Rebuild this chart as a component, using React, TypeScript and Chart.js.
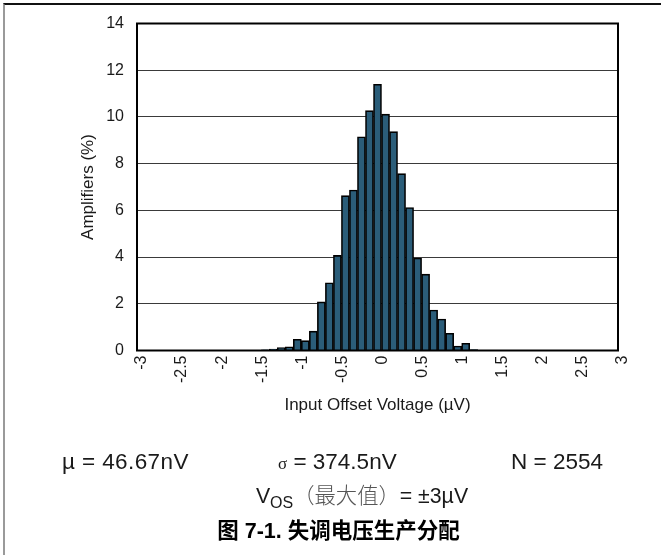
import React, { useEffect, useRef } from "react";
import { Chart, registerables } from "chart.js";

Chart.register(...registerables);

// Histogram bins (µV, bin centres) and share of amplifiers in each bin (%)
const binCenters = [
  -1.4, -1.3, -1.2, -1.1, -1.0, -0.9, -0.8, -0.7, -0.6, -0.5, -0.4, -0.3, -0.2, -0.1,
  0.0, 0.1, 0.2, 0.3, 0.4, 0.5, 0.6, 0.7, 0.8, 0.9, 1.0, 1.1, 1.2,
];
const amplifiersPct = [
  0.03, 0.06, 0.12, 0.16, 0.48, 0.42, 0.83, 2.08, 2.9, 4.07, 6.63, 6.87, 9.15, 10.27,
  11.4, 10.12, 9.37, 7.57, 6.12, 3.96, 3.27, 1.73, 1.35, 0.74, 0.19, 0.31, 0.04,
];

const xRange = [-3, 3];
const xStep = 0.5;
const yRange = [0, 14];
const yStep = 2;

const xTitle = "Input Offset Voltage (µV)";
const yTitle = "Amplifiers (%)";

const FONT = "'Liberation Sans', Arial, Helvetica, sans-serif";
const CJK = "'Liberation Sans', 'Noto Sans CJK SC', sans-serif";
const INK = "#1a1a1a";

// Black frame around the plotting area, drawn over the bars
const plotFrame = {
  id: "plotFrame",
  afterDatasetsDraw(chart: any) {
    const { ctx, chartArea } = chart;
    const { left, top, right, bottom } = chartArea;
    ctx.save();
    ctx.strokeStyle = "#000";
    ctx.lineWidth = 2;
    ctx.strokeRect(left, top, right - left, bottom - top);
    ctx.restore();
  },
};

function Histogram() {
  const canvasRef = useRef<HTMLCanvasElement | null>(null);

  useEffect(() => {
    const canvas = canvasRef.current;
    if (!canvas) return;
    const chart = new Chart(canvas, {
      type: "bar",
      data: {
        datasets: [
          {
            data: binCenters.map((x, i) => ({ x, y: amplifiersPct[i] })),
            backgroundColor: "#2b5d79",
            borderColor: "#000",
            borderWidth: 1.6,
            categoryPercentage: 1,
            barPercentage: 1,
          },
        ],
      },
      options: {
        responsive: false,
        maintainAspectRatio: false,
        animation: false,
        events: [],
        layout: { padding: { left: 74, right: 43, top: 23.5, bottom: 135 } },
        plugins: {
          legend: { display: false },
          tooltip: { enabled: false },
        },
        scales: {
          x: {
            type: "linear",
            min: xRange[0],
            max: xRange[1],
            offset: false,
            grid: { display: false, drawTicks: false, offset: false },
            border: { display: false },
            ticks: {
              stepSize: xStep,
              autoSkip: false,
              minRotation: 90,
              maxRotation: 90,
              padding: 5,
              labelOffset: 5,
              color: INK,
              font: { family: FONT, size: 16 },
              callback: (v: any) => String(Math.round(Number(v) * 10) / 10),
            },
            title: {
              display: true,
              text: xTitle,
              color: INK,
              font: { family: FONT, size: 17 },
              padding: { top: 4, bottom: 4 },
            },
            afterFit: (scale: any) => {
              scale.height = 69.5;
            },
          },
          y: {
            min: yRange[0],
            max: yRange[1],
            grid: { color: "#3a3a3a", lineWidth: 1, drawTicks: false },
            border: { display: false },
            ticks: {
              stepSize: yStep,
              padding: 13,
              color: INK,
              font: { family: FONT, size: 16 },
            },
            title: {
              display: true,
              text: yTitle,
              color: INK,
              font: { family: FONT, size: 17 },
              padding: { top: 4, bottom: 4 },
            },
            afterFit: (scale: any) => {
              scale.width = 63;
            },
          },
        },
      },
      plugins: [plotFrame],
    });
    return () => chart.destroy();
  }, []);

  return (
    <canvas
      ref={canvasRef}
      width={661}
      height={555}
      style={{ position: "absolute", left: 0, top: 0, width: 661, height: 555 }}
    />
  );
}

const statStyle: React.CSSProperties = {
  position: "absolute",
  fontFamily: FONT,
  fontSize: 22.5,
  color: INK,
  lineHeight: "26px",
  whiteSpace: "nowrap",
};

export default function App() {
  return (
    <div
      style={{
        position: "absolute",
        left: 0,
        top: 0,
        width: 661,
        height: 555,
        background: "#fff",
        overflow: "hidden",
      }}
    >
      <div
        style={{
          position: "absolute",
          left: 3,
          top: 3,
          width: 700,
          height: 600,
          borderLeft: "2px solid #9a9a9a",
          borderTop: "2px solid #111",
        }}
      />
      <Histogram />
      <div style={{ ...statStyle, left: 62, top: 449, letterSpacing: 0.4 }}>µ = 46.67nV</div>
      <div style={{ ...statStyle, left: 278, top: 449 }}>
        <span style={{ fontFamily: "'Liberation Serif', 'DejaVu Serif', serif", fontSize: 17 }}>σ</span>
        {" "}= 374.5nV
      </div>
      <div style={{ ...statStyle, left: 511, top: 449 }}>N = 2554</div>
      <div
        style={{
          ...statStyle,
          left: 0,
          width: 661,
          textAlign: "center",
          top: 481,
          fontFamily: CJK,
          fontSize: 21.3,
        }}
      >
        <span style={{ marginLeft: 63 }}>
          V<sub style={{ fontSize: 16, verticalAlign: "-5px" }}>OS</sub>
          <span style={{ fontFamily: "'Noto Sans CJK SC', sans-serif", color: "#555", fontWeight: 300 }}>（最大值）</span>
          = ±3µV
        </span>
      </div>
      <div
        style={{
          ...statStyle,
          left: 0,
          width: 661,
          textAlign: "center",
          top: 518,
          fontFamily: "'Liberation Sans', 'Noto Sans CJK SC', sans-serif",
          fontWeight: 700,
          fontSize: 21.5,
          color: "#000",
        }}
      >
        <span style={{ marginLeft: 16 }}>图 7-1. 失调电压生产分配</span>
      </div>
    </div>
  );
}
